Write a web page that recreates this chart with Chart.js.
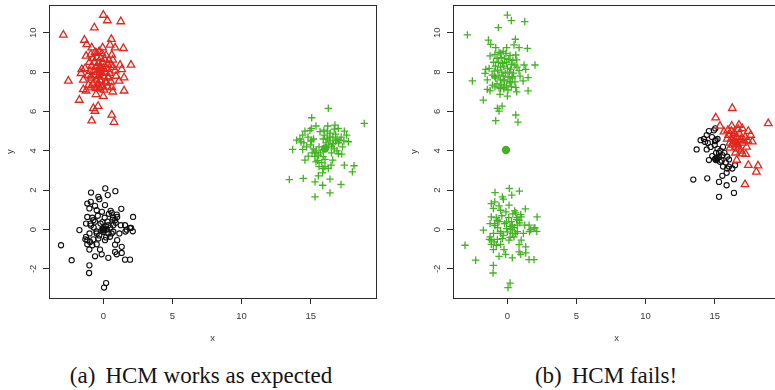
<!DOCTYPE html>
<html>
<head>
<meta charset="utf-8">
<script src="https://cdn.jsdelivr.net/npm/chart.js@4/dist/chart.umd.min.js"></script>
<style>
  html, body { margin: 0; padding: 0; background: #fff; overflow: hidden; width: 775px; height: 390px; }
  .panel { position: absolute; top: 0; width: 390px; height: 350px; }
  #panelA { left: 0; }
  #panelB { left: 404px; }
  .caption {
    position: absolute; top: 364px; white-space: nowrap; transform: translateX(-50%);
    font-family: "Liberation Serif", "Times New Roman", serif; font-size: 23px; line-height: 1; color: #151515;
  }
  .caption .tag { margin-right: 10px; }
</style>
</head>
<body>
<div class="panel" id="panelA"><canvas id="chartA"></canvas></div>
<div class="panel" id="panelB"><canvas id="chartB"></canvas></div>
<div class="caption" style="left:201px"><span class="tag">(a)</span>HCM works as expected</div>
<div class="caption" style="left:606px"><span class="tag">(b)</span>HCM fails!</div>

<script>
// Axis ticks and ranges
const X_TICKS = [0, 5, 10, 15];
const Y_TICKS = [-2, 0, 2, 4, 6, 8, 10];
const X_RANGE = [-3.93, 19.72];
const Y_RANGE = [-3.48, 11.41];

// Upper-left group of points (around 0, 8)
const topCluster = [
  [-2.89, 9.89], [0.0, 10.9], [-0.65, 10.26], [0.29, 10.62], [1.26, 10.57], [-1.37, 9.63], [-1.2, 9.41],
  [0.58, 9.67], [-0.84, 9.24], [-0.05, 9.24], [0.85, 9.24], [1.45, 9.21], [0.48, 9.38], [-1.25, 8.82],
  [-0.48, 8.96], [0.61, 8.87], [0.68, 8.62], [1.21, 8.36], [2.0, 8.36], [-1.32, 8.19], [-1.56, 8.14],
  [-1.61, 7.94], [1.33, 8.14], [0.85, 8.07], [-2.53, 7.55], [-1.45, 7.6], [-0.91, 7.77], [0.36, 7.77],
  [0.92, 7.8], [1.5, 7.72], [1.14, 7.55], [-0.24, 7.6], [0.2, 7.51], [-1.08, 7.34], [-1.45, 7.12],
  [-1.25, 7.05], [-0.48, 7.17], [-0.27, 7.22], [0.05, 7.09], [0.61, 7.22], [0.68, 7.0], [1.5, 7.05],
  [-0.53, 6.87], [0.0, 6.78], [-1.74, 6.58], [-0.72, 6.16], [-0.38, 6.27], [-0.6, 6.02], [0.61, 5.82],
  [-0.84, 5.53], [0.77, 5.46],
  [-0.9, 8.9], [-0.6, 9.0], [-0.3, 9.05], [-0.1, 8.95], [0.2, 8.85], [-0.75, 8.7], [-0.45, 8.75],
  [-0.2, 8.7], [0.1, 8.65], [0.4, 8.6], [-1.0, 8.5], [-0.65, 8.5], [-0.35, 8.45], [-0.05, 8.5],
  [0.3, 8.4], [0.55, 8.35], [-0.85, 8.3], [-0.5, 8.25], [-0.25, 8.3], [0.0, 8.2], [0.25, 8.15],
  [-0.95, 8.05], [-0.7, 8.1], [-0.4, 8.0], [-0.15, 7.95], [0.15, 8.0], [0.45, 7.95], [-0.6, 7.85],
  [-0.3, 7.8], [0.05, 7.75], [0.35, 7.7], [-0.85, 7.7], [-0.5, 7.6], [-0.2, 7.55], [0.2, 7.45],
  [-0.75, 7.4], [-0.4, 7.35], [-0.05, 7.3], [0.3, 7.25], [-0.6, 7.2], [-0.25, 7.15], [-0.9, 7.25],
  [0.55, 7.5], [-1.1, 7.85], [0.7, 8.25]
];

// Lower-left group of points (around 0, 0)
const bottomCluster = [
  [-3.06, -0.8], [-2.29, -1.56], [-1.73, -0.03], [-1.01, -1.82], [-1.03, -2.21], [0.05, -2.95], [0.2, -2.72],
  [-0.89, 1.88], [0.14, 2.09], [0.87, 1.95], [0.32, 1.75], [-0.36, 1.66], [-0.29, 1.54], [-1.16, 1.32],
  [-0.91, 1.41], [-1.01, 1.07], [-0.48, 0.98], [0.12, 1.24], [0.53, 0.95], [0.61, 0.85], [1.3, 1.05],
  [0.97, 0.76], [1.0, 0.64], [2.15, 0.64], [0.85, 0.47], [0.9, 0.34], [-1.16, 0.64], [-0.72, 0.47],
  [-1.25, 0.3], [-0.93, 0.3], [-0.06, 0.38], [0.36, 0.22], [0.72, 0.22], [1.26, 0.22], [1.57, 0.22],
  [1.93, 0.08], [2.0, 0.08], [2.13, -0.09], [1.69, -0.01], [1.6, -0.1], [1.16, -0.2], [0.72, -0.11],
  [0.36, -0.2], [-0.48, -0.2], [-0.36, -0.46], [0.12, -0.54], [0.48, -0.37], [-1.25, -0.37], [-1.16, -0.54],
  [-1.3, -0.5], [-0.96, -0.63], [-0.72, -0.5], [-0.48, -0.75], [-1.16, -0.75], [1.0, -0.54], [0.85, -0.77],
  [1.33, -0.88], [-1.01, -1.02], [-0.24, -1.02], [-0.12, -1.26], [-0.6, -1.36], [0.36, -1.44], [0.85, -1.14],
  [0.97, -1.26], [1.33, -1.19], [1.57, -1.53], [1.93, -1.53], [0.67, 0.5], [0.25, 0.0], [-0.05, 0.05],
  [0.0, -0.12],
  [-0.8, 0.6], [-0.6, 0.4], [-0.9, 0.2], [-0.7, 0.1], [-0.4, 0.7], [-0.2, 0.3], [0.1, 0.6], [0.3, 0.4],
  [-0.5, -0.1], [-0.3, -0.3], [0.2, -0.4], [0.5, 0.1], [0.6, -0.2], [-0.1, 0.9], [0.4, 0.8], [-1.0, -0.2],
  [-0.8, -0.8], [0.7, 0.6], [0.2, 0.15], [-0.6, 1.2]
];

// Right-hand group, lower-left part (around 15, 3.6)
const rightLower = [
  [14.58, 5.0], [14.94, 5.04], [13.98, 4.54], [14.22, 4.6], [15.07, 4.54], [13.69, 4.07], [14.42, 4.07],
  [15.31, 3.9], [15.55, 3.78], [14.82, 3.73], [14.58, 3.53], [15.38, 3.44], [16.03, 3.56], [16.47, 3.27],
  [16.03, 3.2], [16.27, 3.1], [15.86, 2.88], [15.55, 2.73], [16.39, 2.56], [13.45, 2.54], [14.46, 2.6],
  [15.31, 2.42], [15.86, 2.25], [16.39, 1.86], [15.31, 1.66], [15.02, 4.49], [14.42, 4.8], [15.04, 5.14],
  [14.5, 4.4], [14.3, 4.45],
  [15.0, 4.3], [15.2, 4.1], [15.4, 4.0], [15.6, 4.2], [15.3, 3.7], [15.5, 3.5], [15.7, 3.9], [15.1, 3.9],
  [15.8, 3.4], [15.9, 3.1], [15.6, 3.2], [14.8, 4.7], [15.2, 4.6], [14.7, 4.2], [15.9, 3.7]
];

// Right-hand group, upper-right part (around 16.5, 4.4)
const rightUpper = [
  [16.27, 6.16], [15.07, 5.68], [18.87, 5.39], [16.75, 5.31], [16.23, 5.26], [15.38, 5.26], [17.43, 5.0],
  [17.6, 4.8], [16.99, 5.14], [15.67, 4.97], [17.72, 4.46], [17.1, 4.54], [16.63, 4.38], [17.24, 3.83],
  [17.0, 3.85], [16.59, 3.53], [17.43, 3.27], [18.13, 3.24], [18.01, 2.93], [17.19, 2.29],
  [16.0, 4.8], [16.2, 4.6], [16.4, 4.9], [16.6, 4.7], [16.8, 4.5], [17.0, 4.4], [16.3, 4.3], [16.5, 4.2],
  [16.7, 4.1], [16.9, 4.0], [16.1, 4.4], [15.9, 4.6], [16.4, 4.5], [16.6, 4.35], [16.2, 5.0], [16.8, 4.85],
  [17.2, 4.7], [17.3, 4.2], [16.5, 3.9], [16.1, 4.15], [16.7, 5.1], [15.95, 5.05], [17.4, 4.5], [16.35, 4.7],
  [16.9, 4.6]
];

// Cluster centres found in each run
const centresA = { top: [-0.2, 8.1], bottom: [0.0, 0.0], right: [16.03, 4.12] };
const centresB = { left: [-0.1, 4.04], lower: [15.1, 3.58], upper: [16.5, 4.43] };

const RED = '#E1281E';
const GREEN = '#43B322';
const BLACK = '#111111';
const AXIS_COLOR = '#2b2b2b';
const TEXT_COLOR = '#3a3a3a';
const SANS = '"Liberation Sans", Arial, sans-serif';

const pts = arr => arr.map(([x, y]) => ({ x, y }));

const styles = {
  circle:   { pointStyle: 'circle',   pointRadius: 2.6, pointBorderWidth: 1.1, pointBackgroundColor: 'rgba(0,0,0,0)' },
  triangle: { pointStyle: 'triangle', pointRadius: 4.4, pointBorderWidth: 1.3, pointBackgroundColor: 'rgba(0,0,0,0)' },
  plus:     { pointStyle: 'cross',    pointRadius: 3.7, pointBorderWidth: 1.3 }
};

function markerSet(data, style, color) {
  return Object.assign({ data: pts(data), borderColor: color, pointBorderColor: color,
    pointHoverRadius: styles[style].pointRadius, showLine: false }, styles[style]);
}

function centreSet(list) {
  return {
    data: list.map(c => ({ x: c[0][0], y: c[0][1] })),
    pointStyle: 'circle', pointRadius: 4.2, pointBorderWidth: 0,
    pointBackgroundColor: list.map(c => c[1]), pointBorderColor: list.map(c => c[1]), showLine: false
  };
}

// Frame around the plotting region plus rotated y tick labels
const panelDecor = {
  id: 'panelDecor',
  afterDraw(chart) {
    const { ctx, chartArea: a, scales } = chart;
    ctx.save();
    ctx.strokeStyle = AXIS_COLOR;
    ctx.lineWidth = 1;
    ctx.strokeRect(Math.round(a.left) + 0.5, Math.round(a.top) + 0.5,
                   Math.round(a.right - a.left), Math.round(a.bottom - a.top));
    ctx.fillStyle = TEXT_COLOR;
    ctx.font = '9.5px ' + SANS;
    ctx.textAlign = 'center';
    ctx.textBaseline = 'middle';
    for (const v of Y_TICKS) {
      const py = scales.y.getPixelForValue(v);
      ctx.save();
      ctx.translate(a.left - 16, py);
      ctx.rotate(-Math.PI / 2);
      ctx.fillText(String(v), 0, 0);
      ctx.restore();
    }
    ctx.restore();
  }
};

function makePanel(canvasId, datasets) {
  return new Chart(document.getElementById(canvasId), {
    type: 'scatter',
    data: { datasets },
    plugins: [panelDecor],
    options: {
      responsive: true,
      maintainAspectRatio: false,
      animation: false,
      events: [],
      layout: { autoPadding: false, padding: { top: 5, right: 14, bottom: 0, left: 0 } },
      plugins: { legend: { display: false }, tooltip: { enabled: false } },
      scales: {
        x: {
          type: 'linear', min: X_RANGE[0], max: X_RANGE[1],
          afterBuildTicks: s => { s.ticks = X_TICKS.map(v => ({ value: v })); },
          afterFit: s => { s.height = 52; },
          border: { display: false },
          grid: { drawOnChartArea: false, drawTicks: true, tickLength: 6, color: AXIS_COLOR, lineWidth: 1 },
          ticks: { maxRotation: 0, padding: 7, color: TEXT_COLOR, font: { family: SANS, size: 9.5 } },
          title: { display: true, text: 'x', color: TEXT_COLOR, font: { family: SANS, size: 9.5 },
                   padding: { top: 0, bottom: 5.5 } }
        },
        y: {
          type: 'linear', min: Y_RANGE[0], max: Y_RANGE[1],
          afterBuildTicks: s => { s.ticks = Y_TICKS.map(v => ({ value: v })); },
          afterFit: s => { s.width = 49; },
          border: { display: false },
          grid: { drawOnChartArea: false, drawTicks: true, tickLength: 6, color: AXIS_COLOR, lineWidth: 1 },
          ticks: { display: false },
          title: { display: true, text: 'y', color: TEXT_COLOR, font: { family: SANS, size: 9.5 },
                   padding: { top: 5, bottom: 0 } }
        }
      }
    }
  });
}

// (a) three well separated groups
makePanel('chartA', [
  centreSet([[centresA.top, RED], [centresA.bottom, BLACK], [centresA.right, GREEN]]),
  markerSet(rightLower.concat(rightUpper), 'plus', GREEN),
  markerSet(topCluster, 'triangle', RED),
  markerSet(bottomCluster, 'circle', BLACK)
]);

// (b) the two left groups merged, the right group split in two
makePanel('chartB', [
  centreSet([[centresB.left, GREEN], [centresB.lower, BLACK], [centresB.upper, RED]]),
  markerSet(rightUpper, 'triangle', RED),
  markerSet(rightLower, 'circle', BLACK),
  markerSet(topCluster.concat(bottomCluster), 'plus', GREEN)
]);
</script>
</body>
</html>
